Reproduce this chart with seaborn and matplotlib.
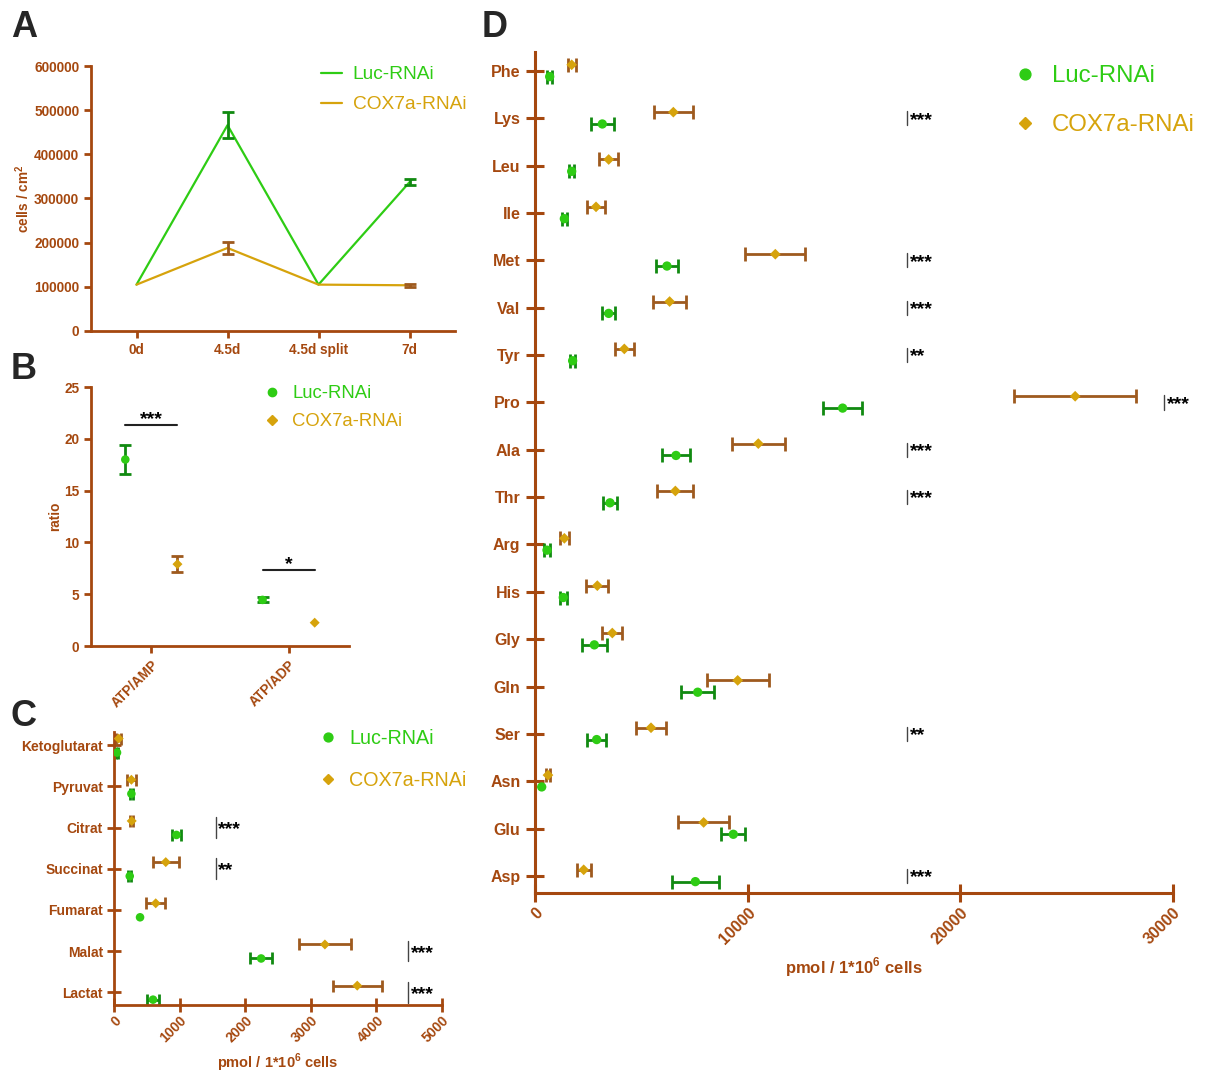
import numpy as np
import pandas as pd
import matplotlib
matplotlib.use('Agg')
import matplotlib.pyplot as plt
from matplotlib.lines import Line2D
import seaborn as sns

sns.set_style('ticks')
plt.rcParams['font.family'] = ['Liberation Sans', 'DejaVu Sans']
plt.rcParams['mathtext.fontset'] = 'custom'
plt.rcParams['mathtext.rm'] = 'Liberation Sans'
plt.rcParams['mathtext.bf'] = 'Liberation Sans:bold'

BROWN = '#A5480F'
GREEN = '#2ECC14'
GREEN_ERR = '#118A11'
GOLD = '#D6A30C'
GOLD_ERR = '#9E5A1E'

# ---------------- data ----------------
series = ['Luc-RNAi', 'COX7a-RNAi']

a_days = ['0d', '4.5d', '4.5d split', '7d']
a_luc = [105000, 466000, 105000, 337000]
a_luc_err = [0, 29000, 0, 7000]
a_cox = [105000, 188000, 105000, 103500]
a_cox_err = [0, 14000, 0, 4000]

b_cat = ['ATP/AMP', 'ATP/ADP']
b_luc = [18.0, 4.45]
b_luc_err = [1.38, 0.25]
b_cox = [7.9, 2.25]
b_cox_err = [0.8, 0.0]
b_sig = ['***', '*']
b_sig_y = [21.3, 7.3]

c_cat = ['Ketoglutarat', 'Pyruvat', 'Citrat', 'Succinat', 'Fumarat', 'Malat', 'Lactat']
c_luc = [46, 265, 952, 240, 397, 2243, 595]
c_luc_err = [20, 25, 70, 25, 0, 163, 89]
c_cox = [72, 265, 270, 789, 636, 3215, 3708]
c_cox_err = [35, 70, 25, 200, 142, 397, 374]
c_sig = ['', '', '***', '**', '', '***', '***']
c_sig_x = [0, 0, 1550, 1550, 0, 4480, 4480]

d_cat = ['Phe', 'Lys', 'Leu', 'Ile', 'Met', 'Val', 'Tyr', 'Pro', 'Ala', 'Thr',
         'Arg', 'His', 'Gly', 'Gln', 'Ser', 'Asn', 'Glu', 'Asp']
d_luc = [690, 3165, 1725, 1380, 6205, 3465, 1770, 14465, 6630, 3525,
         565, 1330, 2790, 7650, 2900, 315, 9325, 7540]
d_luc_err = [130, 555, 130, 120, 525, 320, 130, 910, 665, 330,
             130, 170, 580, 770, 445, 0, 565, 1095]
d_cox = [1725, 6505, 3465, 2870, 11300, 6330, 4200, 25400, 10500, 6600,
         1380, 2930, 3635, 9530, 5455, 610, 7930, 2290]
d_cox_err = [180, 905, 445, 415, 1410, 785, 440, 2875, 1240, 840,
             200, 510, 470, 1460, 720, 100, 1200, 330]
d_sig = ['', '***', '', '', '***', '***', '**', '***', '***', '***',
         '', '', '', '', '**', '', '', '***']
d_sig_x = [0, 17500, 0, 0, 17500, 17500, 17500, 29600, 17500, 17500,
           0, 0, 0, 0, 17500, 0, 0, 17500]

# ---------------- figure ----------------
W, H = 1205, 1072
fig = plt.figure(figsize=(W / 100, H / 100), dpi=100)


def px_axes(l, t, r, b):
    return fig.add_axes([l / W, 1 - b / H, (r - l) / W, (b - t) / H])


def style_axes(ax, lw=2.0):
    sns.despine(ax=ax)
    for s in ['left', 'bottom']:
        ax.spines[s].set_color(BROWN)
        ax.spines[s].set_linewidth(lw)
    ax.tick_params(colors=BROWN, labelcolor=BROWN, width=lw)
    for lab in ax.get_xticklabels() + ax.get_yticklabels():
        lab.set_fontweight('bold')


def errbars(ax, x, y, xerr=None, yerr=None, color='k', cap=4.5):
    x = np.asarray(x, float); y = np.asarray(y, float)
    e = np.asarray(xerr if xerr is not None else yerr, float)
    m = e > 0
    if xerr is not None:
        ax.errorbar(x[m], y[m], xerr=e[m], fmt='none', ecolor=color,
                    elinewidth=2.0, capsize=cap, capthick=2.0, zorder=2)
    else:
        ax.errorbar(x[m], y[m], yerr=e[m], fmt='none', ecolor=color,
                    elinewidth=2.0, capsize=cap, capthick=2.0, zorder=2)


def marker_legend(ax, fs, anchor, lspace, hpad):
    handles = [Line2D([], [], ls='none', marker='o', color=GREEN, markersize=fs * 0.45),
               Line2D([], [], ls='none', marker='D', color=GOLD, markersize=fs * 0.38)]
    leg = ax.legend(handles, series, loc='upper left', bbox_to_anchor=anchor,
                    bbox_transform=fig.transFigure, frameon=False, fontsize=fs,
                    handlelength=1.0, handletextpad=hpad, labelspacing=lspace,
                    borderpad=0, borderaxespad=0, labelcolor=[GREEN, GOLD])
    return leg


# ---------------- Panel A ----------------
axA = px_axes(91, 66, 455, 331)
xa = np.arange(len(a_days))
dfA = pd.DataFrame({'x': np.concatenate([xa, xa]),
                    'y': a_luc + a_cox,
                    'grp': [series[0]] * 4 + [series[1]] * 4})
sns.lineplot(data=dfA, x='x', y='y', hue='grp', palette=[GREEN, GOLD],
             ax=axA, linewidth=1.6, legend=False)
errbars(axA, xa, a_luc, yerr=a_luc_err, color=GREEN_ERR, cap=4)
errbars(axA, xa, a_cox, yerr=a_cox_err, color=GOLD_ERR, cap=4)
axA.set_xlim(-0.5, 3.5)
axA.set_ylim(0, 600000)
axA.set_yticks(np.arange(0, 600001, 100000))
axA.set_xticks(xa)
axA.set_xticklabels(a_days)
axA.tick_params(labelsize=9.8, length=5)
axA.set_xlabel('')
axA.set_ylabel('cells / cm$^{\\mathbf{2}}$', color=BROWN, fontsize=9.8,
               fontweight='bold', labelpad=1.5)
style_axes(axA)
la = [Line2D([], [], color=GREEN, lw=1.6), Line2D([], [], color=GOLD, lw=1.6)]
axA.legend(la, series, loc='upper left', bbox_to_anchor=(321 / W, 1 - 66 / H),
           bbox_transform=fig.transFigure, frameon=False, fontsize=13.8,
           handlelength=1.08, handletextpad=0.57, labelspacing=0.65,
           borderpad=0, borderaxespad=0, labelcolor=[GREEN, GOLD])

# ---------------- Panel B ----------------
axB = px_axes(91, 387, 349, 646)
xb = np.arange(len(b_cat))
sns.scatterplot(x=xb - 0.19, y=b_luc, ax=axB, color=GREEN, marker='o', s=38,
                edgecolor='none', zorder=3)
sns.scatterplot(x=xb + 0.19, y=b_cox, ax=axB, color=GOLD, marker='D', s=26,
                edgecolor='none', zorder=3)
errbars(axB, xb - 0.19, b_luc, yerr=b_luc_err, color=GREEN_ERR, cap=4.5)
errbars(axB, xb + 0.19, b_cox, yerr=b_cox_err, color=GOLD_ERR, cap=4.5)
for i, (s, yv) in enumerate(zip(b_sig, b_sig_y)):
    axB.plot([i - 0.19, i + 0.19], [yv, yv], color='#222222', lw=1.5)
    axB.text(i, yv - 0.3, s, ha='center', va='bottom', fontsize=14,
             fontweight='bold', color='black')
axB.set_xlim(-0.44, 1.44)
axB.set_ylim(0, 25)
axB.set_yticks(np.arange(0, 26, 5))
axB.set_xticks(xb)
axB.set_xticklabels(b_cat, rotation=45, ha='right', rotation_mode='anchor')
axB.tick_params(labelsize=9.8, length=5)
axB.set_ylabel('ratio', color=BROWN, fontsize=9.8, fontweight='bold', labelpad=1.5)
style_axes(axB)
marker_legend(axB, 13.3, (263 / W, 1 - 385 / H), 0.62, 0.58)

# ---------------- Panel C ----------------
axC = px_axes(114, 732, 442, 1005)
yc = np.arange(len(c_cat))
sns.scatterplot(x=c_luc, y=yc + 0.18, ax=axC, color=GREEN, marker='o', s=38,
                edgecolor='none', zorder=3)
sns.scatterplot(x=c_cox, y=yc - 0.16, ax=axC, color=GOLD, marker='D', s=26,
                edgecolor='none', zorder=3)
errbars(axC, c_luc, yc + 0.18, xerr=c_luc_err, color=GREEN_ERR, cap=4)
errbars(axC, c_cox, yc - 0.16, xerr=c_cox_err, color=GOLD_ERR, cap=4)
for i, (s, xv) in enumerate(zip(c_sig, c_sig_x)):
    if s:
        axC.plot([xv, xv], [i - 0.25, i + 0.25], color='#444444', lw=1.0)
        axC.text(xv + 40, i + 0.05, s, ha='left', va='center', fontsize=14,
                 fontweight='bold', color='black')
axC.set_xlim(0, 5000)
axC.set_ylim(6.31, -0.32)
axC.set_xticks(np.arange(0, 5001, 1000))
axC.set_yticks(yc)
axC.set_yticklabels(c_cat)
axC.set_xticklabels([str(v) for v in range(0, 5001, 1000)], rotation=45,
                    ha='right', rotation_mode='anchor')
axC.tick_params(axis='y', direction='inout', length=10, labelsize=10, pad=3)
axC.tick_params(axis='x', direction='inout', length=10, labelsize=10, pad=1)
axC.set_xlabel('pmol / 1*10$^{\\mathbf{6}}$ cells', color=BROWN, fontsize=10.5,
               fontweight='bold', labelpad=5)
style_axes(axC)
marker_legend(axC, 14.2, (318 / W, 1 - 729 / H), 1.18, 0.57)

# ---------------- Panel D ----------------
axD = px_axes(535, 52, 1173, 893)
yd = np.arange(len(d_cat))
sns.scatterplot(x=d_luc, y=yd + 0.12, ax=axD, color=GREEN, marker='o', s=45,
                edgecolor='none', zorder=3)
sns.scatterplot(x=d_cox, y=yd - 0.13, ax=axD, color=GOLD, marker='D', s=30,
                edgecolor='none', zorder=3)
errbars(axD, d_luc, yd + 0.12, xerr=d_luc_err, color=GREEN_ERR, cap=5)
errbars(axD, d_cox, yd - 0.13, xerr=d_cox_err, color=GOLD_ERR, cap=5)
for i, (s, xv) in enumerate(zip(d_sig, d_sig_x)):
    if s:
        axD.plot([xv, xv], [i - 0.15, i + 0.15], color='#444444', lw=1.0)
        axD.text(xv + 120, i + 0.04, s, ha='left', va='center', fontsize=14,
                 fontweight='bold', color='black')
axD.set_xlim(0, 30000)
axD.set_ylim(17.36, -0.4)
axD.set_xticks(np.arange(0, 30001, 10000))
axD.set_yticks(yd)
axD.set_yticklabels(d_cat)
axD.set_xticklabels([str(v) for v in range(0, 30001, 10000)], rotation=45,
                    ha='right', rotation_mode='anchor')
axD.tick_params(axis='y', direction='inout', length=13, labelsize=11.5, pad=4)
axD.tick_params(axis='x', direction='inout', length=13, labelsize=11.5, pad=2)
axD.set_xlabel('pmol / 1*10$^{\\mathbf{6}}$ cells', color=BROWN, fontsize=12,
               fontweight='bold', labelpad=6)
style_axes(axD, lw=2.2)
marker_legend(axD, 17.3, (1013 / W, 1 - 65 / H), 1.13, 0.63)

# panel letters
for lab, (x, y) in zip(['A', 'B', 'C', 'D'], [(11, 10), (11, 352), (11, 699), (482, 10)]):
    fig.text(x / W, 1 - y / H, lab, fontsize=26, fontweight='bold', va='top', ha='left')

fig.savefig('out.png', dpi=100)
